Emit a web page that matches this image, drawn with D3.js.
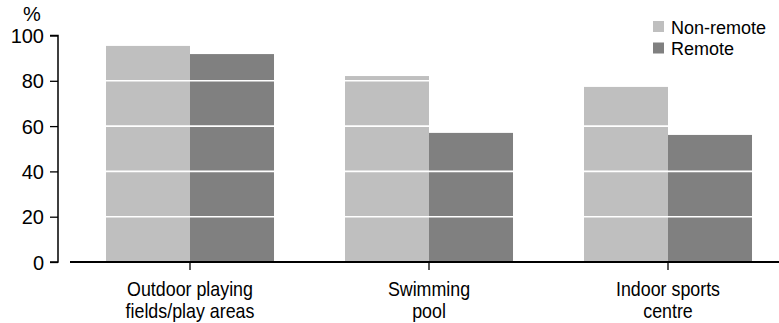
<!DOCTYPE html>
<html>
<head>
<meta charset="utf-8">
<script src="https://cdn.jsdelivr.net/npm/d3@7"></script>
<style>
  html, body { margin: 0; padding: 0; background: #fff; }
  svg { display: block; }
  text { font-family: "Liberation Sans", Arial, sans-serif; fill: #000; }
</style>
</head>
<body>
<svg id="chart" width="779" height="323"></svg>
<script>
const categories = [["Outdoor playing", "fields/play areas"], ["Swimming", "pool"], ["Indoor sports", "centre"]];
const seriesNames = ["Non-remote", "Remote"];
const nonRemote = [95.4, 82.1, 77.3];
const remote = [91.8, 57.0, 56.1];
const yTicks = [0, 20, 40, 60, 80, 100];
const gridValues = [20, 40, 60, 80];
const colors = ["#bfbfbf", "#808080"];

const svg = d3.select("#chart");
const W = 779, H = 323;
const catKeys = categories.map(c => c.join(" "));

const y = d3.scaleLinear().domain([0, 100]).range([262, 35.5]);
const x = d3.scaleBand().domain(catKeys).range([70.5, 787.5]).paddingInner(0.297).paddingOuter(0.1485);
const xs = d3.scaleBand().domain(seriesNames).range([0, x.bandwidth()]);
const color = d3.scaleOrdinal().domain(seriesNames).range(colors);

const data = catKeys.map((k, i) => ({ key: k, values: [
  { name: seriesNames[0], v: nonRemote[i] },
  { name: seriesNames[1], v: remote[i] }
]}));

// bars
const g = svg.append("g");
g.selectAll("g.cat").data(data).join("g")
  .attr("transform", d => `translate(${x(d.key)},0)`)
  .selectAll("rect").data(d => d.values).join("rect")
  .attr("x", d => xs(d.name))
  .attr("width", xs.bandwidth())
  .attr("y", d => y(d.v))
  .attr("height", d => y(0) - y(d.v))
  .attr("fill", d => color(d.name));

// white gridlines over bars
svg.append("g").selectAll("line").data(gridValues).join("line")
  .attr("x1", 70).attr("x2", W)
  .attr("y1", d => y(d)).attr("y2", d => y(d))
  .attr("stroke", "#fff").attr("stroke-width", 1.6);

// y axis
const yAxis = d3.axisLeft(y).tickValues(yTicks).tickSize(8).tickPadding(6).tickFormat(d3.format("d"));
const ya = svg.append("g").attr("transform", "translate(58,0)").call(yAxis);
ya.select(".domain").attr("d", `M-8,${y(100)}H0V${y(0)}H-8`).attr("stroke", "#000").attr("stroke-width", 1.5);
ya.selectAll(".tick line").attr("stroke", "#000").attr("stroke-width", 1.3);
ya.selectAll("text").style("font-size", "20px").attr("dy", "0.35em");

svg.append("text").attr("x", 32).attr("y", 21).attr("text-anchor", "middle")
  .style("font-size", "20px").text("%");

// x axis
const xAxis = d3.axisBottom(x).tickSize(8).tickFormat("");
const xa = svg.append("g").attr("transform", `translate(0,${y(0)})`).call(xAxis);
xa.select(".domain").attr("d", `M70,0H${W}`).attr("stroke", "#000").attr("stroke-width", 2);
xa.selectAll(".tick line").attr("stroke", "#000").attr("stroke-width", 1.3);

const labels = svg.append("g").selectAll("text").data(categories).join("text")
  .attr("text-anchor", "middle")
  .attr("transform", (d, i) => `translate(${x(catKeys[i]) + x.bandwidth() / 2},0) scale(0.85,1)`)
  .style("font-size", "21px");
labels.selectAll("tspan").data(d => d).join("tspan")
  .attr("x", 0).attr("y", (d, i) => 296 + i * 22).text(d => d);

// legend
const leg = svg.append("g").selectAll("g").data(seriesNames).join("g")
  .attr("transform", (d, i) => `translate(653,${21 + i * 21.5})`);
leg.append("rect").attr("width", 11).attr("height", 11).attr("fill", d => color(d));
leg.append("text").attr("x", 18).attr("y", 12.5).attr("transform", "scale(1,1)")
  .style("font-size", "18px").text(d => d);
</script>
</body>
</html>
